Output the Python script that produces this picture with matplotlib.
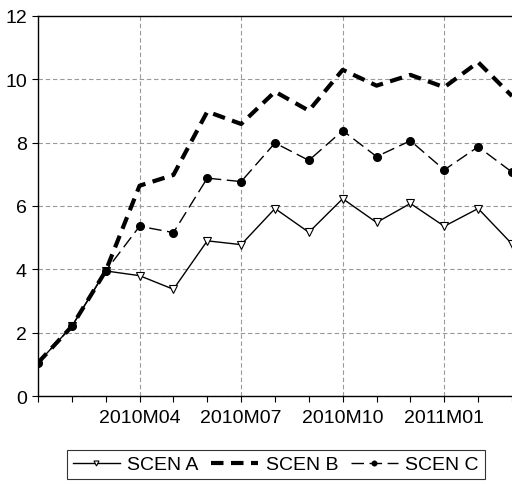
import matplotlib
matplotlib.use("Agg")
import matplotlib.pyplot as plt

plt.rcParams['font.family'] = ['Liberation Sans', 'DejaVu Sans']

months = ['2010M01', '2010M02', '2010M03', '2010M04', '2010M05', '2010M06',
          '2010M07', '2010M08', '2010M09', '2010M10', '2010M11', '2010M12',
          '2011M01', '2011M02', '2011M03']
scen_a = [1.05, 2.2, 3.95, 3.8, 3.37, 4.9, 4.78, 5.92, 5.17, 6.23, 5.48,
          6.08, 5.36, 5.92, 4.8]
scen_b = [1.05, 2.2, 3.95, 6.64, 6.98, 8.98, 8.59, 9.61, 9.01, 10.3, 9.8,
          10.14, 9.75, 10.54, 9.47]
scen_c = [1.05, 2.2, 3.95, 5.36, 5.16, 6.88, 6.77, 7.99, 7.44, 8.38, 7.56,
          8.06, 7.14, 7.87, 7.07]
major_labels = ['2010M04', '2010M07', '2010M10', '2011M01']

x = list(range(len(months)))

fig = plt.figure(figsize=(5.12, 4.85), dpi=100)
ax = fig.add_axes([0.0742, 0.1814, 0.9258, 0.7836])

ax.plot(x, scen_a, color='black', linewidth=1.0, marker='v', markersize=6,
        markerfacecolor='white', markeredgecolor='black', markeredgewidth=0.8,
        label='SCEN A', zorder=3)
ax.plot(x, scen_b, color='black', linewidth=3.0, linestyle=(0, (3, 1.8)),
        label='SCEN B', zorder=3)
ax.plot(x, scen_c, color='black', linewidth=1.0, linestyle=(0, (9, 4)),
        marker='o', markersize=5.5, label='SCEN C', zorder=3)

ax.set_xlim(0, 14)
ax.set_ylim(0, 12)
ax.set_yticks([0, 2, 4, 6, 8, 10, 12])
major_pos = [months.index(m) for m in major_labels]
ax.set_xticks(major_pos)
ax.set_xticklabels(major_labels)
ax.set_xticks(x, minor=True)
ax.tick_params(axis='both', which='both', direction='out', color='black',
               labelsize=14, length=4, width=0.8, pad=4)
ax.tick_params(axis='x', which='major', pad=5)

ax.grid(True, which='major', color='#999999', linestyle=(0, (4, 2.5)),
        linewidth=0.8)
ax.set_axisbelow(True)
ax.spines['right'].set_visible(False)
for s in ['left', 'bottom', 'top']:
    ax.spines[s].set_linewidth(1.0)

leg = fig.legend(loc='upper center', bbox_to_anchor=(0.539, 0.0701), ncol=3,
                 frameon=True, fancybox=False, fontsize=14, handlelength=2.4,
                 markerscale=0.6, columnspacing=0.65, handletextpad=0.4,
                 borderpad=0.3, borderaxespad=0)
leg.get_frame().set_edgecolor('black')
leg.get_frame().set_linewidth(0.8)

fig.savefig('out.png', dpi=100)
